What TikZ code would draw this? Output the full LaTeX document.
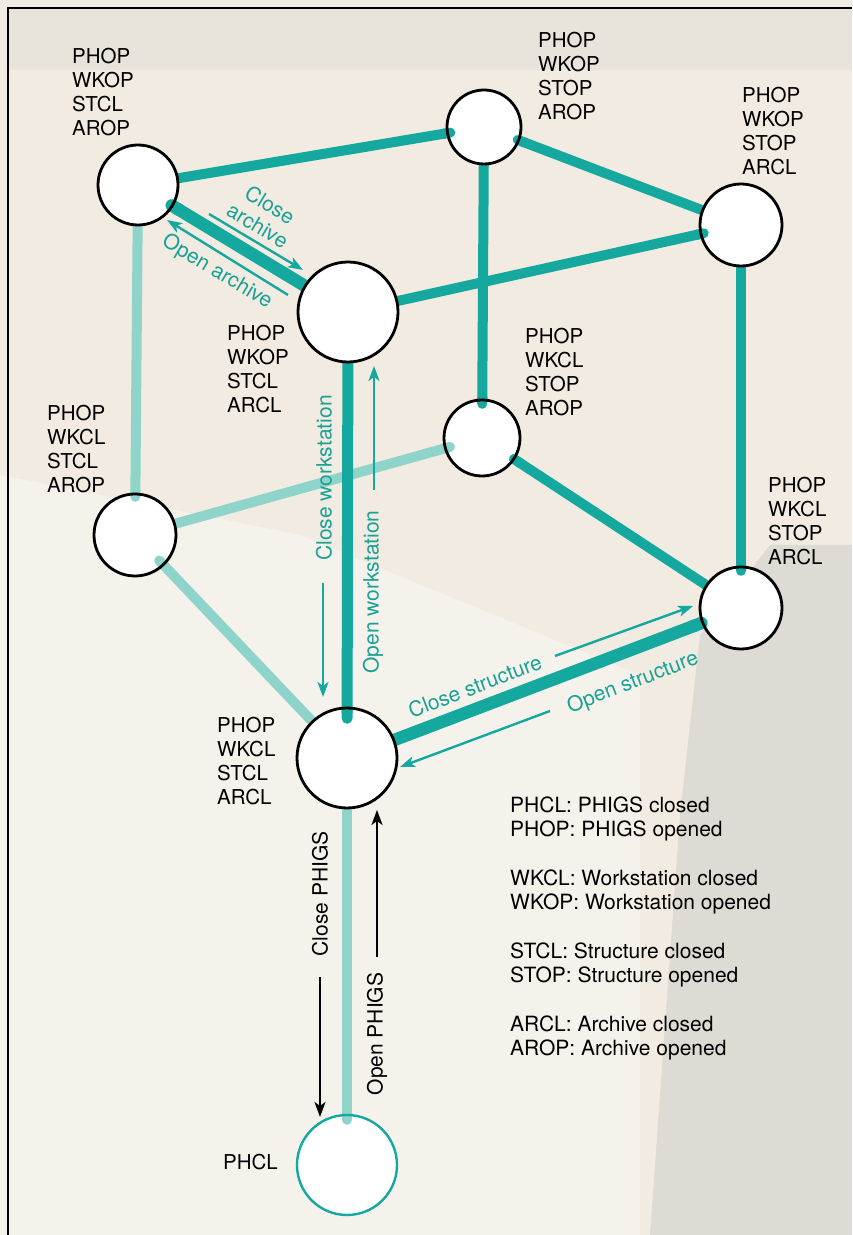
\documentclass[tikz,border=0pt]{standalone}
\usepackage{fontspec}
\setmainfont{TeX Gyre Heros}
\usetikzlibrary{arrows.meta, calc}
\definecolor{tealline}{RGB}{20,168,158}
\definecolor{tealpale}{RGB}{142,212,203}
\definecolor{tealtext}{RGB}{24,162,150}
\definecolor{paper}{RGB}{242,235,225}
\definecolor{paperlight}{RGB}{245,242,236}
\definecolor{papergrey}{RGB}{222,219,212}

\begin{document}
\begin{tikzpicture}[x=1pt, y=1pt,
    state/.style={circle, fill=white, inner sep=0pt},
    ring/.style={draw=black, line width=2.8pt},
    edge/.style={tealline, line width=10pt, -{Round Cap[]}},
    front/.style={edge, line width=12.5pt},
    back/.style={edge, tealpale},
    trans/.style={tealline, line width=2.4pt, -{Stealth[length=15pt, width=11pt, inset=4pt]}},
    phigs/.style={trans, black},
    lbl/.style={font=\fontsize{20.5}{24}\selectfont, align=left, inner sep=0pt, anchor=north west},
    tlbl/.style={text=tealtext, font=\fontsize{21}{24}\selectfont, inner sep=0pt, align=center}]
  \useasboundingbox (0,0) rectangle (852,1235);

  % papier
  \fill[paper] (0,0) rectangle (852,1235);
  \fill[paperlight] (0,0) -- (0,760) -- (300,700) -- (640,560) -- (640,0) -- cycle;
  \fill[papergrey] (852,0) -- (852,690) -- (770,690) -- (700,600) -- (680,420) -- (650,0) -- cycle;
  \fill[papergrey!45!paper] (8,1165) rectangle (852,1227);
  \draw[black, line width=1.2pt] (8,0) -- (8,1227) -- (852,1227);

  % Zustaende
  \node[state, minimum size=80pt]  (A) at (138,1050) {};
  \node[state, minimum size=100pt] (B) at (348,923)  {};
  \node[state, minimum size=74pt]  (C) at (484,1108) {};
  \node[state, minimum size=82pt]  (D) at (741,1010) {};
  \node[state, minimum size=76pt]  (E) at (482,797)  {};
  \node[state, minimum size=82pt]  (F) at (135,700)  {};
  \node[state, minimum size=82pt]  (G) at (741,627)  {};
  \node[state, minimum size=100pt] (H) at (347,477)  {};
  \node[state, minimum size=100pt] (P) at (347,70)   {};

  % hintere Kanten
  \draw[back, shorten >=-8pt]  (A) -- (F);
  \draw[back, shorten >=-10pt] (F) -- (E);
  \draw[back, shorten >=-11pt] (H) -- (F);
  \draw[back, shorten >=-10pt] (H) -- (P);

  % Kanten
  \draw[edge, shorten >=-8pt]  (A) -- (C);
  \draw[edge, shorten >=-6pt]  (D) -- (C);
  \draw[edge, shorten >=-9pt]  (C) -- (E);
  \draw[edge, shorten >=-8pt]  (B) -- (D);
  \draw[edge, shorten >=-9pt]  (D) -- (G);
  \draw[edge, shorten >=-5pt]  (G) -- (E);
  \draw[front, shorten >=-7pt] (B) -- (A);
  \draw[edge, line width=11pt, shorten >=-16pt] (B) -- (H);
  \draw[front, shorten >=-5pt] (H) -- (G);

  % Kreise
  \foreach \n/\r in {A/40, B/50, C/37, D/41, E/38, F/41, G/41, H/50}
    \draw[ring] (\n.center) circle[radius=\r];
  \draw[tealline, line width=2.4pt] (P.center) circle[radius=50];

  % Zustandsnamen
  \node[lbl] (lA) at (72,1187)  {PHOP\\WKOP\\STCL\\AROP};
  \node[lbl] (lC) at (538,1203) {PHOP\\WKOP\\STOP\\AROP};
  \node[lbl] (lD) at (742,1148) {PHOP\\WKOP\\STOP\\ARCL};
  \node[lbl] (lB) at (227,910)  {PHOP\\WKOP\\STCL\\ARCL};
  \node[lbl] (lE) at (525,907)  {PHOP\\WKCL\\STOP\\AROP};
  \node[lbl] (lF) at (47,830)   {PHOP\\WKCL\\STCL\\AROP};
  \node[lbl] (lG) at (768,758)  {PHOP\\WKCL\\STOP\\ARCL};
  \node[lbl] (lH) at (217,518)  {PHOP\\WKCL\\STCL\\ARCL};
  \node[lbl, anchor=west] (lP) at (223,73) {PHCL};

  % Uebergaenge
  \coordinate (caS) at (209,1021); \coordinate (caE) at (303,965);
  \coordinate (oaS) at (288,940);  \coordinate (oaE) at (167,1015);
  \coordinate (cwS) at (323,652);  \coordinate (cwE) at (323,538);
  \coordinate (owS) at (374,745);  \coordinate (owE) at (374,869);
  \coordinate (csS) at (555,579);  \coordinate (csE) at (693,629);
  \coordinate (osS) at (550,524);  \coordinate (osE) at (400,468);
  \coordinate (cpS) at (320,258);  \coordinate (cpE) at (320,118);
  \coordinate (opS) at (377,278);  \coordinate (opE) at (377,425);
  \draw[trans] (caS) -- (caE);
  \draw[trans] (oaS) -- (oaE);
  \draw[trans] (cwS) -- (cwE);
  \draw[trans] (owS) -- (owE);
  \draw[trans] (csS) -- (csE);
  \draw[trans] (osS) -- (osE);
  \draw[phigs] (cpS) -- (cpE);
  \draw[phigs] (opS) -- (opE);

  \node[tlbl, rotate=-31] (tca) at (264,1020) {Close\\archive};
  \node[tlbl, rotate=-31] (toa) at (217,963)  {Open archive};
  \node[tlbl, rotate=90]  (tcw) at (324,757)  {Close workstation};
  \node[tlbl, rotate=90]  (tow) at (373,643)  {Open workstation};
  \node[tlbl, rotate=21]  (tcs) at (475,549)  {Close structure};
  \node[tlbl, rotate=21]  (tos) at (633,552)  {Open structure};
  \node[tlbl, text=black, rotate=90] (tcp) at (320,341) {Close PHIGS};
  \node[tlbl, text=black, rotate=90] (top) at (377,201) {Open PHIGS};

  % Legende
  \node[lbl, font=\fontsize{21}{23.5}\selectfont] (legend) at (510,438)
    {PHCL: PHIGS closed\\PHOP: PHIGS opened\\[26pt]
     WKCL: Workstation closed\\WKOP: Workstation opened\\[26pt]
     STCL: Structure closed\\STOP: Structure opened\\[26pt]
     ARCL: Archive closed\\AROP: Archive opened};
\end{tikzpicture}
\end{document}
